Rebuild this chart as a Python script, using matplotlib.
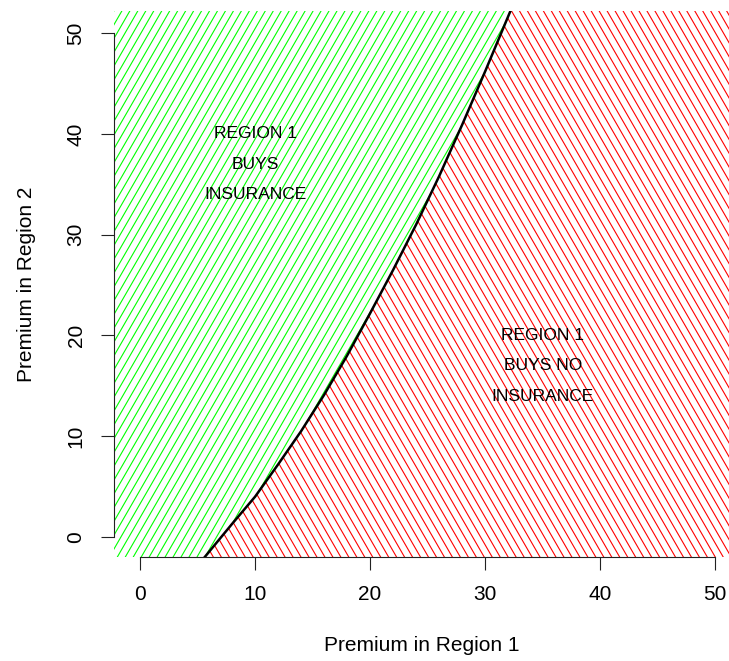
import matplotlib.pyplot as plt
import numpy as np
from matplotlib.collections import LineCollection
from matplotlib.patches import Polygon
from matplotlib.transforms import IdentityTransform

# boundary curve (premium region 1 vs premium region 2)
curve_x = [5.4, 8, 10, 12, 14, 16, 18, 20, 22, 24, 26, 28, 30, 32.2, 32.4]
curve_y = [-2.3, 1.3, 4.0, 7.2, 10.5, 14.1, 18.0, 22.2, 26.5, 31.0, 35.8, 40.9, 46.2, 52.2, 52.8]

ticks = [0, 10, 20, 30, 40, 50]
label_buys = "REGION 1\nBUYS\nINSURANCE"
label_no = "REGION 1\nBUYS NO\nINSURANCE"
label_buys_pos = (10, 37)
label_no_pos = (35, 17)

W, H, DPI = 729, 661, 100
plt.rcParams["font.family"] = ["Liberation Sans", "DejaVu Sans"]


def hatch(ax, patch, angle, color, spacing=6.9):
    # parallel lines in pixel space, clipped to the region polygon
    t = np.deg2rad(angle)
    d = np.array([np.cos(t), np.sin(t)])
    n = np.array([-np.sin(t), np.cos(t)])
    L = 1500
    segs = []
    for k in np.arange(-L, L, spacing):
        c = np.array([W / 2, H / 2]) + k * n
        segs.append([c - L * d, c + L * d])
    lc = LineCollection(segs, colors=color, linewidths=0.8,
                        transform=IdentityTransform())
    ax.add_collection(lc)
    lc.set_clip_path(patch)


def main() -> None:
    fig = plt.figure(figsize=(W / DPI, H / DPI), dpi=DPI)
    ax = fig.add_axes([114 / W, 104 / H, 615 / W, 546 / H])
    ax.set_xlim(-2.26, 51.2)
    ax.set_ylim(-1.98, 52.2)

    cx, cy = list(curve_x), list(curve_y)
    green = Polygon(list(zip([-10] + cx + [-10], [-10] + cy + [60])),
                    closed=True, facecolor="none", edgecolor="none")
    red = Polygon(list(zip(cx + [70, 70], cy + [60, -10])),
                  closed=True, facecolor="none", edgecolor="none")
    ax.add_patch(green)
    ax.add_patch(red)
    hatch(ax, green, 60, "#00ff00")
    hatch(ax, red, -60, "#ff0000")

    ax.plot(cx, cy, color="black", lw=1.8)

    ax.text(*label_buys_pos, label_buys, ha="center", va="center",
            fontsize=12.5, linespacing=2.3)
    ax.text(*label_no_pos, label_no, ha="center", va="center",
            fontsize=12.5, linespacing=2.3)

    for s in ["top", "right"]:
        ax.spines[s].set_visible(False)
    for s in ["left", "bottom"]:
        ax.spines[s].set_bounds(0, 50)
        ax.spines[s].set_color("#222222")
    ax.set_xticks(ticks)
    ax.set_yticks(ticks)
    ax.tick_params(direction="out", length=9.5, width=0.8, labelsize=15,
                   color="#222222", pad=11)
    plt.setp(ax.get_yticklabels(), rotation=90, va="center")
    ax.set_xlabel("Premium in Region 1", fontsize=15, labelpad=23)
    ax.set_ylabel("Premium in Region 2", fontsize=15, labelpad=22)

    fig.savefig("out.png", dpi=DPI)
    plt.close(fig)


if __name__ == "__main__":
    main()
